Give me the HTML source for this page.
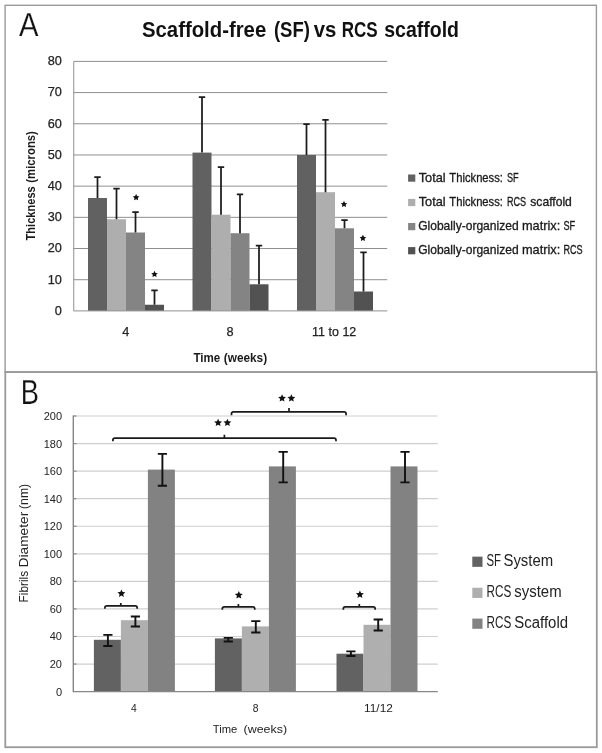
<!DOCTYPE html>
<html lang="en"><head><meta charset="utf-8"><title>Figure</title>
<style>html,body{margin:0;padding:0;background:#fff;}body{width:602px;height:753px;overflow:hidden;font-family:"Liberation Sans",sans-serif;}svg{display:block;}</style>
</head><body>
<svg width="602" height="753" viewBox="0 0 602 753" font-family="Liberation Sans, sans-serif" style="filter:grayscale(1)">
<rect x="0" y="0" width="602" height="753" fill="#ffffff"/>
<rect x="5.1" y="5.3" width="591.30" height="366.70" fill="none" stroke="#9a9a9a" stroke-width="1.4"/>
<rect x="5.3" y="372.1" width="591.50" height="375.10" fill="none" stroke="#9a9a9a" stroke-width="1.8"/>
<g id="chartA">
<line x1="73.75" y1="279.71" x2="387.25" y2="279.71" stroke="#8f8f8f" stroke-width="1"/>
<line x1="73.75" y1="248.52" x2="387.25" y2="248.52" stroke="#8f8f8f" stroke-width="1"/>
<line x1="73.75" y1="217.34" x2="387.25" y2="217.34" stroke="#8f8f8f" stroke-width="1"/>
<line x1="73.75" y1="186.15" x2="387.25" y2="186.15" stroke="#8f8f8f" stroke-width="1"/>
<line x1="73.75" y1="154.96" x2="387.25" y2="154.96" stroke="#8f8f8f" stroke-width="1"/>
<line x1="73.75" y1="123.78" x2="387.25" y2="123.78" stroke="#8f8f8f" stroke-width="1"/>
<line x1="73.75" y1="92.59" x2="387.25" y2="92.59" stroke="#8f8f8f" stroke-width="1"/>
<line x1="73.75" y1="61.40" x2="387.25" y2="61.40" stroke="#8f8f8f" stroke-width="1"/>
<rect x="88.00" y="198.00" width="19.0" height="112.90" fill="#616161"/>
<rect x="107.00" y="219.25" width="19.0" height="91.65" fill="#aeaeae"/>
<rect x="126.00" y="232.50" width="19.0" height="78.40" fill="#848484"/>
<rect x="145.00" y="304.75" width="19.0" height="6.15" fill="#525252"/>
<rect x="192.50" y="152.60" width="19.0" height="158.30" fill="#616161"/>
<rect x="211.50" y="214.70" width="19.0" height="96.20" fill="#aeaeae"/>
<rect x="230.50" y="233.20" width="19.0" height="77.70" fill="#848484"/>
<rect x="249.50" y="284.30" width="19.0" height="26.60" fill="#525252"/>
<rect x="297.00" y="155.00" width="19.0" height="155.90" fill="#616161"/>
<rect x="316.00" y="192.20" width="19.0" height="118.70" fill="#aeaeae"/>
<rect x="335.00" y="228.30" width="19.0" height="82.60" fill="#848484"/>
<rect x="354.00" y="291.50" width="19.0" height="19.40" fill="#525252"/>
<line x1="73.75" y1="61.4" x2="73.75" y2="310.9" stroke="#8f8f8f" stroke-width="1"/>
<line x1="73.75" y1="310.9" x2="387.25" y2="310.9" stroke="#8f8f8f" stroke-width="1"/>
<path d="M97.50 198.00V177.00M94.30 177.00H100.70" stroke="#1c1c1c" stroke-width="1.75" fill="none"/>
<path d="M116.50 219.25V188.65M113.30 188.65H119.70" stroke="#1c1c1c" stroke-width="1.75" fill="none"/>
<path d="M135.50 232.50V212.00M132.30 212.00H138.70" stroke="#1c1c1c" stroke-width="1.75" fill="none"/>
<path d="M154.50 304.75V290.40M151.30 290.40H157.70" stroke="#1c1c1c" stroke-width="1.75" fill="none"/>
<path d="M202.00 152.60V97.20M198.80 97.20H205.20" stroke="#1c1c1c" stroke-width="1.75" fill="none"/>
<path d="M221.00 214.70V167.20M217.80 167.20H224.20" stroke="#1c1c1c" stroke-width="1.75" fill="none"/>
<path d="M240.00 233.20V194.30M236.80 194.30H243.20" stroke="#1c1c1c" stroke-width="1.75" fill="none"/>
<path d="M259.00 284.30V245.70M255.80 245.70H262.20" stroke="#1c1c1c" stroke-width="1.75" fill="none"/>
<path d="M306.50 155.00V124.10M303.30 124.10H309.70" stroke="#1c1c1c" stroke-width="1.75" fill="none"/>
<path d="M325.50 192.20V119.90M322.30 119.90H328.70" stroke="#1c1c1c" stroke-width="1.75" fill="none"/>
<path d="M344.50 228.30V220.10M341.30 220.10H347.70" stroke="#1c1c1c" stroke-width="1.75" fill="none"/>
<path d="M363.50 291.50V252.30M360.30 252.30H366.70" stroke="#1c1c1c" stroke-width="1.75" fill="none"/>
<polygon points="136.10,194.05 137.11,196.10 139.38,196.43 137.74,198.03 138.13,200.29 136.10,199.22 134.07,200.29 134.46,198.03 132.82,196.43 135.09,196.10" fill="#111"/>
<polygon points="154.50,270.85 155.51,272.90 157.78,273.23 156.14,274.83 156.53,277.09 154.50,276.03 152.47,277.09 152.86,274.83 151.22,273.23 153.49,272.90" fill="#111"/>
<polygon points="344.00,200.85 345.01,202.90 347.28,203.23 345.64,204.83 346.03,207.09 344.00,206.03 341.97,207.09 342.36,204.83 340.72,203.23 342.99,202.90" fill="#111"/>
<polygon points="362.90,234.75 363.91,236.80 366.18,237.13 364.54,238.73 364.93,240.99 362.90,239.93 360.87,240.99 361.26,238.73 359.62,237.13 361.89,236.80" fill="#111"/>
<text x="61.9" y="314.70" font-size="12.7" text-anchor="end" fill="#222" stroke="#222" stroke-width="0.25">0</text>
<text x="61.9" y="283.51" font-size="12.7" text-anchor="end" fill="#222" stroke="#222" stroke-width="0.25">10</text>
<text x="61.9" y="252.32" font-size="12.7" text-anchor="end" fill="#222" stroke="#222" stroke-width="0.25">20</text>
<text x="61.9" y="221.14" font-size="12.7" text-anchor="end" fill="#222" stroke="#222" stroke-width="0.25">30</text>
<text x="61.9" y="189.95" font-size="12.7" text-anchor="end" fill="#222" stroke="#222" stroke-width="0.25">40</text>
<text x="61.9" y="158.76" font-size="12.7" text-anchor="end" fill="#222" stroke="#222" stroke-width="0.25">50</text>
<text x="61.9" y="127.58" font-size="12.7" text-anchor="end" fill="#222" stroke="#222" stroke-width="0.25">60</text>
<text x="61.9" y="96.39" font-size="12.7" text-anchor="end" fill="#222" stroke="#222" stroke-width="0.25">70</text>
<text x="61.9" y="65.20" font-size="12.7" text-anchor="end" fill="#222" stroke="#222" stroke-width="0.25">80</text>
<text x="125.9" y="336.1" font-size="12.7" text-anchor="middle" fill="#222" stroke="#222" stroke-width="0.25">4</text>
<text x="230.0" y="336.1" font-size="12.7" text-anchor="middle" fill="#222" stroke="#222" stroke-width="0.25">8</text>
<text x="312.1" y="336.2" font-size="12.5" fill="#222" stroke="#222" stroke-width="0.25" textLength="44.2" lengthAdjust="spacingAndGlyphs">11 to 12</text>
<text x="193.45" y="362.40" font-size="12" font-weight="bold" fill="#1a1a1a" textLength="26.80" lengthAdjust="spacingAndGlyphs">Time</text>
<text x="223.75" y="362.40" font-size="12" font-weight="bold" fill="#1a1a1a" textLength="43.40" lengthAdjust="spacingAndGlyphs">(weeks)</text>
<text transform="translate(35.00 240.45) rotate(-90)" font-size="12" font-weight="bold" fill="#1a1a1a" textLength="54.20" lengthAdjust="spacingAndGlyphs">Thickness</text>
<text transform="translate(35.00 182.65) rotate(-90)" font-size="12" font-weight="bold" fill="#1a1a1a" textLength="51.50" lengthAdjust="spacingAndGlyphs">(microns)</text>
<text x="142.00" y="37.30" font-size="21.5" font-weight="bold" fill="#111" textLength="124.20" lengthAdjust="spacingAndGlyphs">Scaffold-free</text>
<text x="273.90" y="37.30" font-size="21.5" font-weight="bold" fill="#111" textLength="36.00" lengthAdjust="spacingAndGlyphs">(SF)</text>
<text x="313.80" y="37.30" font-size="21.5" font-weight="bold" fill="#111" textLength="22.60" lengthAdjust="spacingAndGlyphs">vs</text>
<text x="341.70" y="37.30" font-size="21.5" font-weight="bold" fill="#111" textLength="36.00" lengthAdjust="spacingAndGlyphs">RCS</text>
<text x="384.20" y="37.30" font-size="21.5" font-weight="bold" fill="#111" textLength="74.80" lengthAdjust="spacingAndGlyphs">scaffold</text>
<text x="18.9" y="36.3" font-size="33.8" fill="#111" stroke="#fff" stroke-width="0.25" textLength="19.5" lengthAdjust="spacingAndGlyphs">A</text>
<rect x="408.1" y="174.50" width="7.2" height="7.2" fill="#616161"/>
<text x="418.65" y="182.10" font-size="12.1" font-weight="normal" fill="#1a1a1a" stroke="#1a1a1a" stroke-width="0.3" textLength="27.00" lengthAdjust="spacingAndGlyphs">Total</text>
<text x="449.35" y="182.10" font-size="12.1" font-weight="normal" fill="#1a1a1a" stroke="#1a1a1a" stroke-width="0.3" textLength="53.60" lengthAdjust="spacingAndGlyphs">Thickness:</text>
<text x="506.95" y="182.10" font-size="12.1" font-weight="normal" fill="#1a1a1a" stroke="#1a1a1a" stroke-width="0.3" textLength="11.70" lengthAdjust="spacingAndGlyphs">SF</text>
<rect x="408.1" y="198.90" width="7.2" height="7.2" fill="#aeaeae"/>
<text x="418.65" y="206.20" font-size="12.1" font-weight="normal" fill="#1a1a1a" stroke="#1a1a1a" stroke-width="0.3" textLength="27.00" lengthAdjust="spacingAndGlyphs">Total</text>
<text x="449.35" y="206.20" font-size="12.1" font-weight="normal" fill="#1a1a1a" stroke="#1a1a1a" stroke-width="0.3" textLength="53.60" lengthAdjust="spacingAndGlyphs">Thickness:</text>
<text x="506.95" y="206.20" font-size="12.1" font-weight="normal" fill="#1a1a1a" stroke="#1a1a1a" stroke-width="0.3" textLength="19.20" lengthAdjust="spacingAndGlyphs">RCS</text>
<text x="530.25" y="206.20" font-size="12.1" font-weight="normal" fill="#1a1a1a" stroke="#1a1a1a" stroke-width="0.3" textLength="41.60" lengthAdjust="spacingAndGlyphs">scaffold</text>
<rect x="408.1" y="223.00" width="7.2" height="7.2" fill="#848484"/>
<text x="418.15" y="230.20" font-size="12.1" font-weight="normal" fill="#1a1a1a" stroke="#1a1a1a" stroke-width="0.3" textLength="100.50" lengthAdjust="spacingAndGlyphs">Globally-organized</text>
<text x="521.95" y="230.20" font-size="12.1" font-weight="normal" fill="#1a1a1a" stroke="#1a1a1a" stroke-width="0.3" textLength="38.30" lengthAdjust="spacingAndGlyphs">matrix:</text>
<text x="563.45" y="230.20" font-size="12.1" font-weight="normal" fill="#1a1a1a" stroke="#1a1a1a" stroke-width="0.3" textLength="11.70" lengthAdjust="spacingAndGlyphs">SF</text>
<rect x="408.1" y="247.10" width="7.2" height="7.2" fill="#525252"/>
<text x="418.15" y="254.30" font-size="12.1" font-weight="normal" fill="#1a1a1a" stroke="#1a1a1a" stroke-width="0.3" textLength="100.50" lengthAdjust="spacingAndGlyphs">Globally-organized</text>
<text x="521.95" y="254.30" font-size="12.1" font-weight="normal" fill="#1a1a1a" stroke="#1a1a1a" stroke-width="0.3" textLength="38.30" lengthAdjust="spacingAndGlyphs">matrix:</text>
<text x="563.45" y="254.30" font-size="12.1" font-weight="normal" fill="#1a1a1a" stroke="#1a1a1a" stroke-width="0.3" textLength="19.20" lengthAdjust="spacingAndGlyphs">RCS</text>
</g>
<g id="chartB">
<line x1="73.3" y1="664.04" x2="437.75" y2="664.04" stroke="#cfcfcf" stroke-width="1.2"/>
<line x1="73.3" y1="636.48" x2="437.75" y2="636.48" stroke="#cfcfcf" stroke-width="1.2"/>
<line x1="73.3" y1="608.92" x2="437.75" y2="608.92" stroke="#cfcfcf" stroke-width="1.2"/>
<line x1="73.3" y1="581.36" x2="437.75" y2="581.36" stroke="#cfcfcf" stroke-width="1.2"/>
<line x1="73.3" y1="553.80" x2="437.75" y2="553.80" stroke="#cfcfcf" stroke-width="1.2"/>
<line x1="73.3" y1="526.24" x2="437.75" y2="526.24" stroke="#cfcfcf" stroke-width="1.2"/>
<line x1="73.3" y1="498.68" x2="437.75" y2="498.68" stroke="#cfcfcf" stroke-width="1.2"/>
<line x1="73.3" y1="471.12" x2="437.75" y2="471.12" stroke="#cfcfcf" stroke-width="1.2"/>
<line x1="73.3" y1="443.56" x2="437.75" y2="443.56" stroke="#cfcfcf" stroke-width="1.2"/>
<line x1="73.3" y1="416.00" x2="437.75" y2="416.00" stroke="#cfcfcf" stroke-width="1.2"/>
<rect x="93.90" y="639.80" width="27.0" height="51.80" fill="#626262"/>
<rect x="120.90" y="620.20" width="27.0" height="71.40" fill="#afafaf"/>
<rect x="147.90" y="469.60" width="27.0" height="222.00" fill="#828282"/>
<rect x="214.90" y="638.40" width="27.0" height="53.20" fill="#626262"/>
<rect x="241.90" y="626.40" width="27.0" height="65.20" fill="#afafaf"/>
<rect x="268.90" y="466.40" width="27.0" height="225.20" fill="#828282"/>
<rect x="336.50" y="653.70" width="27.0" height="37.90" fill="#626262"/>
<rect x="363.50" y="624.80" width="27.0" height="66.80" fill="#afafaf"/>
<rect x="390.50" y="466.40" width="27.0" height="225.20" fill="#828282"/>
<line x1="73.3" y1="415.4" x2="73.3" y2="692.2" stroke="#868686" stroke-width="1.4"/>
<line x1="73.3" y1="691.6" x2="437.75" y2="691.6" stroke="#868686" stroke-width="1.4"/>
<line x1="73.3" y1="664.04" x2="76.5" y2="664.04" stroke="#8a8a8a" stroke-width="1.2"/>
<line x1="73.3" y1="636.48" x2="76.5" y2="636.48" stroke="#8a8a8a" stroke-width="1.2"/>
<line x1="73.3" y1="608.92" x2="76.5" y2="608.92" stroke="#8a8a8a" stroke-width="1.2"/>
<line x1="73.3" y1="581.36" x2="76.5" y2="581.36" stroke="#8a8a8a" stroke-width="1.2"/>
<line x1="73.3" y1="553.80" x2="76.5" y2="553.80" stroke="#8a8a8a" stroke-width="1.2"/>
<line x1="73.3" y1="526.24" x2="76.5" y2="526.24" stroke="#8a8a8a" stroke-width="1.2"/>
<line x1="73.3" y1="498.68" x2="76.5" y2="498.68" stroke="#8a8a8a" stroke-width="1.2"/>
<line x1="73.3" y1="471.12" x2="76.5" y2="471.12" stroke="#8a8a8a" stroke-width="1.2"/>
<line x1="73.3" y1="443.56" x2="76.5" y2="443.56" stroke="#8a8a8a" stroke-width="1.2"/>
<line x1="73.3" y1="416.00" x2="76.5" y2="416.00" stroke="#8a8a8a" stroke-width="1.2"/>
<path d="M107.90 634.90V646.00M103.30 634.90H112.50M103.30 646.00H112.50" stroke="#111" stroke-width="1.9" fill="none"/>
<path d="M135.40 616.50V626.50M130.80 616.50H140.00M130.80 626.50H140.00" stroke="#111" stroke-width="1.9" fill="none"/>
<path d="M162.40 453.90V485.70M157.80 453.90H167.00M157.80 485.70H167.00" stroke="#111" stroke-width="1.9" fill="none"/>
<path d="M228.30 637.90V641.50M223.70 637.90H232.90M223.70 641.50H232.90" stroke="#111" stroke-width="1.9" fill="none"/>
<path d="M255.80 621.10V632.50M251.20 621.10H260.40M251.20 632.50H260.40" stroke="#111" stroke-width="1.9" fill="none"/>
<path d="M283.20 451.90V482.40M278.60 451.90H287.80M278.60 482.40H287.80" stroke="#111" stroke-width="1.9" fill="none"/>
<path d="M350.90 651.40V656.00M346.30 651.40H355.50M346.30 656.00H355.50" stroke="#111" stroke-width="1.9" fill="none"/>
<path d="M378.20 619.50V630.50M373.60 619.50H382.80M373.60 630.50H382.80" stroke="#111" stroke-width="1.9" fill="none"/>
<path d="M405.00 451.90V482.40M400.40 451.90H409.60M400.40 482.40H409.60" stroke="#111" stroke-width="1.9" fill="none"/>
<path d="M104.90 608.70V607.90Q104.90 605.90 106.90 605.90H135.20Q137.20 605.90 137.20 607.90V608.70M120.80 605.90V602.90" stroke="#1a1a1a" stroke-width="1.7" fill="none"/>
<path d="M222.30 609.70V608.90Q222.30 606.90 224.30 606.90H252.80Q254.80 606.90 254.80 608.90V609.70M238.40 606.90V603.90" stroke="#1a1a1a" stroke-width="1.7" fill="none"/>
<path d="M343.30 609.70V608.90Q343.30 606.90 345.30 606.90H373.20Q375.20 606.90 375.20 608.90V609.70M359.30 606.90V603.90" stroke="#1a1a1a" stroke-width="1.7" fill="none"/>
<path d="M112.90 441.20V440.20Q112.90 438.20 114.90 438.20H334.00Q336.00 438.20 336.00 440.20V441.20M224.40 438.20V434.80" stroke="#1a1a1a" stroke-width="1.7" fill="none"/>
<path d="M231.50 415.20V413.80Q231.50 411.80 233.50 411.80H344.10Q346.10 411.80 346.10 413.80V415.20M289.00 411.80V408.00" stroke="#1a1a1a" stroke-width="1.7" fill="none"/>
<polygon points="121.40,589.45 122.55,592.02 125.35,592.32 123.26,594.20 123.84,596.96 121.40,595.55 118.96,596.96 119.54,594.20 117.45,592.32 120.25,592.02" fill="#111"/>
<polygon points="238.80,591.05 239.95,593.62 242.75,593.92 240.66,595.80 241.24,598.56 238.80,597.15 236.36,598.56 236.94,595.80 234.85,593.92 237.65,593.62" fill="#111"/>
<polygon points="359.90,590.45 361.05,593.02 363.85,593.32 361.76,595.20 362.34,597.96 359.90,596.55 357.46,597.96 358.04,595.20 355.95,593.32 358.75,593.02" fill="#111"/>
<polygon points="218.10,418.70 219.23,421.24 222.00,421.53 219.93,423.40 220.51,426.12 218.10,424.73 215.69,426.12 216.27,423.40 214.20,421.53 216.97,421.24" fill="#111"/>
<polygon points="227.40,418.70 228.53,421.24 231.30,421.53 229.23,423.40 229.81,426.12 227.40,424.73 224.99,426.12 225.57,423.40 223.50,421.53 226.27,421.24" fill="#111"/>
<polygon points="282.05,394.20 283.18,396.74 285.95,397.03 283.88,398.90 284.46,401.62 282.05,400.23 279.64,401.62 280.22,398.90 278.15,397.03 280.92,396.74" fill="#111"/>
<polygon points="291.35,394.20 292.48,396.74 295.25,397.03 293.18,398.90 293.76,401.62 291.35,400.23 288.94,401.62 289.52,398.90 287.45,397.03 290.22,396.74" fill="#111"/>
<text x="62" y="695.60" font-size="11" text-anchor="end" fill="#222">0</text>
<text x="62" y="668.04" font-size="11" text-anchor="end" fill="#222">20</text>
<text x="62" y="640.48" font-size="11" text-anchor="end" fill="#222">40</text>
<text x="62" y="612.92" font-size="11" text-anchor="end" fill="#222">60</text>
<text x="62" y="585.36" font-size="11" text-anchor="end" fill="#222">80</text>
<text x="62" y="557.80" font-size="11" text-anchor="end" fill="#222">100</text>
<text x="62" y="530.24" font-size="11" text-anchor="end" fill="#222">120</text>
<text x="62" y="502.68" font-size="11" text-anchor="end" fill="#222">140</text>
<text x="62" y="475.12" font-size="11" text-anchor="end" fill="#222">160</text>
<text x="62" y="447.56" font-size="11" text-anchor="end" fill="#222">180</text>
<text x="62" y="420.00" font-size="11" text-anchor="end" fill="#222">200</text>
<text x="133.8" y="712.4" font-size="10.3" text-anchor="middle" fill="#222">4</text>
<text x="255.6" y="712.4" font-size="10.3" text-anchor="middle" fill="#222">8</text>
<text x="364.10" y="712.40" font-size="10.3" font-weight="normal" fill="#222" textLength="28.70" lengthAdjust="spacingAndGlyphs">11/12</text>
<text x="212.85" y="732.90" font-size="11.6" font-weight="normal" fill="#222" textLength="24.50" lengthAdjust="spacingAndGlyphs">Time</text>
<text x="243.55" y="732.90" font-size="11.6" font-weight="normal" fill="#222" textLength="43.60" lengthAdjust="spacingAndGlyphs">(weeks)</text>
<text transform="translate(27.90 602.45) rotate(-90)" font-size="12" font-weight="normal" fill="#222" textLength="31.60" lengthAdjust="spacingAndGlyphs">Fibrils</text>
<text transform="translate(27.90 567.45) rotate(-90)" font-size="12" font-weight="normal" fill="#222" textLength="55.70" lengthAdjust="spacingAndGlyphs">Diameter</text>
<text transform="translate(27.90 508.95) rotate(-90)" font-size="12" font-weight="normal" fill="#222" textLength="25.10" lengthAdjust="spacingAndGlyphs">(nm)</text>
<text x="20.8" y="403.9" font-size="34.7" fill="#111" stroke="#fff" stroke-width="0.25" textLength="18.2" lengthAdjust="spacingAndGlyphs">B</text>
<rect x="472.3" y="556.65" width="10.2" height="10.2" fill="#626262"/>
<text x="486.45" y="565.50" font-size="15.6" font-weight="normal" fill="#222" textLength="14.50" lengthAdjust="spacingAndGlyphs">SF</text>
<text x="503.45" y="565.50" font-size="15.6" font-weight="normal" fill="#222" textLength="49.70" lengthAdjust="spacingAndGlyphs">System</text>
<rect x="472.3" y="587.75" width="10.2" height="10.2" fill="#afafaf"/>
<text x="486.45" y="596.80" font-size="15.6" font-weight="normal" fill="#222" textLength="24.80" lengthAdjust="spacingAndGlyphs">RCS</text>
<text x="514.35" y="596.80" font-size="15.6" font-weight="normal" fill="#222" textLength="47.20" lengthAdjust="spacingAndGlyphs">system</text>
<rect x="472.3" y="618.60" width="10.2" height="10.2" fill="#828282"/>
<text x="486.45" y="627.70" font-size="15.6" font-weight="normal" fill="#222" textLength="24.80" lengthAdjust="spacingAndGlyphs">RCS</text>
<text x="514.35" y="627.70" font-size="15.6" font-weight="normal" fill="#222" textLength="53.70" lengthAdjust="spacingAndGlyphs">Scaffold</text>
</g>
</svg>
</body></html>
